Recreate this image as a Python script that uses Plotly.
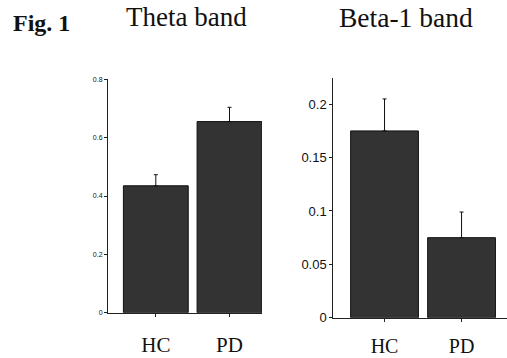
import plotly.graph_objects as go

groups = ["HC", "PD"]
theta_mean = [0.435, 0.655]
theta_err = [0.038, 0.049]
beta1_mean = [0.175, 0.075]
beta1_err = [0.030, 0.024]
theta_ticks = [0, 0.2, 0.4, 0.6, 0.8]
beta1_ticks = [0, 0.05, 0.1, 0.15, 0.2]

W, H = 507, 358
bar_color = "#333333"
xpos = list(range(len(groups)))

fig = go.Figure()
fig.add_trace(go.Bar(
    x=xpos, y=theta_mean, width=0.88, xaxis="x", yaxis="y",
    marker=dict(color=bar_color, line=dict(color="#111111", width=1)),
    error_y=dict(type="data", symmetric=False, array=theta_err,
                 arrayminus=[0] * len(groups), color="#111111", thickness=1, width=2),
))
fig.add_trace(go.Bar(
    x=xpos, y=beta1_mean, width=0.88, xaxis="x2", yaxis="y2",
    marker=dict(color=bar_color, line=dict(color="#111111", width=1)),
    error_y=dict(type="data", symmetric=False, array=beta1_err,
                 arrayminus=[0] * len(groups), color="#111111", thickness=1, width=2),
))

serif = "Liberation Serif, Times New Roman, serif"
sans = "Liberation Sans, Arial, sans-serif"

def xd(a, b):
    return [a / W, b / W]

def yd(top, bottom):
    return [(H - bottom) / H, (H - top) / H]

fig.update_layout(
    width=W, height=H, margin=dict(l=0, r=0, t=0, b=0, autoexpand=False),
    paper_bgcolor="white", plot_bgcolor="white", showlegend=False,
    xaxis=dict(domain=xd(108, 262), range=[-0.649, 1.441], tickvals=xpos, ticktext=groups,
               showline=True, linecolor="#222", linewidth=1, ticks="outside", ticklen=3,
               tickcolor="#222", showgrid=False, zeroline=False, anchor="y", automargin=False,
               tickfont=dict(family=serif, size=21, color="#111"), ticklabelstandoff=10),
    yaxis=dict(domain=yd(79.3, 312.7), range=[0, 0.8], tickvals=theta_ticks,
               showline=True, linecolor="#222", linewidth=1, ticks="outside", ticklen=3,
               tickcolor="#222", showgrid=False, zeroline=False, anchor="x", automargin=False,
               tickfont=dict(family=sans, size=7, color="#111")),
    xaxis2=dict(domain=xd(333.3, 507), range=[-0.665, 1.59], tickvals=xpos, ticktext=groups,
                showline=True, linecolor="#222", linewidth=1, ticks="outside", ticklen=3,
                tickcolor="#222", showgrid=False, zeroline=False, anchor="y2", automargin=False,
                tickfont=dict(family=serif, size=20, color="#111"), ticklabelstandoff=7),
    yaxis2=dict(domain=yd(78, 317.7), range=[0, 0.2246], tickvals=beta1_ticks,
                showline=True, linecolor="#222", linewidth=1, ticks="outside", ticklen=3,
                tickcolor="#222", showgrid=False, zeroline=False, anchor="x2", automargin=False,
                tickfont=dict(family=sans, size=13, color="#111")),
    annotations=[
        dict(text="<b>Fig. 1</b>", x=41 / W, y=(H - 23) / H, xref="paper", yref="paper",
             xanchor="center", yanchor="middle",
             showarrow=False, font=dict(family=serif, size=24, color="#111")),
        dict(text="Theta band", x=186.7 / W, y=(H - 17.5) / H, xref="paper", yref="paper",
             xanchor="center", yanchor="middle",
             showarrow=False, font=dict(family=serif, size=27, color="#111")),
        dict(text="Beta-1 band", x=405.5 / W, y=(H - 17.5) / H, xref="paper", yref="paper",
             xanchor="center", yanchor="middle",
             showarrow=False, font=dict(family=serif, size=27.5, color="#111")),
    ],
)

fig.write_html("out.html", config={"displayModeBar": False},
               post_script="document.body.style.margin='0';")
